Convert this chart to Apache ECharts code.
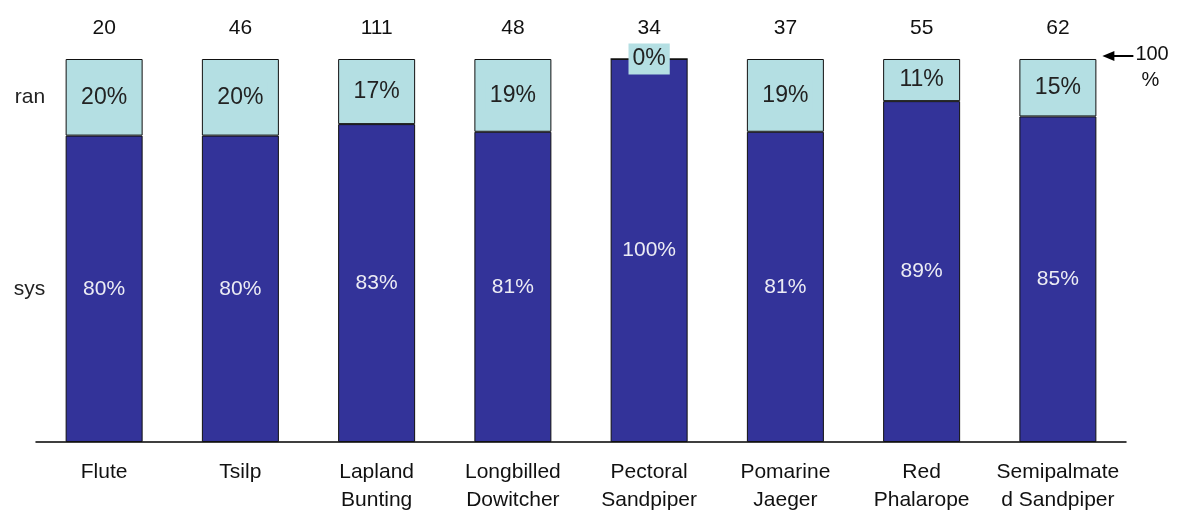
<!DOCTYPE html>
<html>
<head>
<meta charset="utf-8">
<script src="https://cdn.jsdelivr.net/npm/echarts@6/dist/echarts.min.js"></script>
<style>
  html, body { margin: 0; padding: 0; background: #fff; }
  #chart { width: 1177px; height: 511px; }
</style>
</head>
<body>
<div id="chart"></div>
<script>
// Species / call types and their sample sizes
const categories = ['Flute', 'Tsilp', 'Lapland\nBunting', 'Longbilled\nDowitcher',
  'Pectoral\nSandpiper', 'Pomarine\nJaeger', 'Red\nPhalarope', 'Semipalmate\nd Sandpiper'];
const counts = [20, 46, 111, 48, 34, 37, 55, 62];
// Percentage of systematic vs. random
const sysPct = [80, 80, 83, 81, 100, 81, 89, 85];
const ranPct = [20, 20, 17, 19, 0, 19, 11, 15];

const FONT = 'Liberation Sans, Arial, sans-serif';
const DARK = '#333399';
const LIGHT = '#b4dfe3';

const chart = echarts.init(document.getElementById('chart'));

chart.setOption({
  animation: false,
  grid: { left: 36, right: 51, top: 59, bottom: 69, containLabel: false, outerBoundsMode: 'none' },
  xAxis: [
    {
      type: 'category',
      data: categories,
      axisLine: { lineStyle: { color: '#000', width: 1.5 } },
      axisTick: { show: false },
      axisLabel: { color: '#111', fontFamily: FONT, fontSize: 21, lineHeight: 28, margin: 16, interval: 0 }
    },
    {
      type: 'category',
      position: 'top',
      data: counts.map(String),
      axisLine: { show: false },
      axisTick: { show: false },
      axisLabel: { color: '#111', fontFamily: FONT, fontSize: 21, margin: 20, interval: 0 }
    }
  ],
  yAxis: { type: 'value', min: 0, max: 100, show: false },
  series: [
    {
      name: 'sys',
      type: 'bar',
      stack: 'pct',
      barWidth: 77,
      data: sysPct,
      itemStyle: { color: DARK, borderColor: '#111', borderWidth: 1 },
      label: {
        show: true, position: 'inside', formatter: '{c}%',
        color: '#ececf4', fontFamily: FONT, fontSize: 21
      },
      markPoint: {
        symbol: 'circle', symbolSize: 0,
        data: [{ coord: [0, sysPct[0] / 2], value: 'sys' }],
        label: { formatter: 'sys', position: 'inside', align: 'right', offset: [-59, 0],
          color: '#222', fontFamily: FONT, fontSize: 21 }
      }
    },
    {
      name: 'ran',
      type: 'bar',
      stack: 'pct',
      barWidth: 77,
      data: ranPct,
      itemStyle: { color: LIGHT, borderColor: '#111', borderWidth: 1 },
      label: {
        show: true, position: 'inside', formatter: '{c}%',
        color: '#222', fontFamily: FONT, fontSize: 23,
        backgroundColor: LIGHT, padding: [1, 4, 7, 4]
      },
      markPoint: {
        symbol: 'circle', symbolSize: 0,
        data: [{ coord: [0, sysPct[0] + ranPct[0] / 2], value: 'ran' }],
        label: { formatter: 'ran', position: 'inside', align: 'right', offset: [-59, 0],
          color: '#222', fontFamily: FONT, fontSize: 21 }
      }
    }
  ]
});

// "100 %" pointer next to the last bar
const last = categories.length - 1;
const topPt = chart.convertToPixel({ xAxisIndex: 0, yAxisIndex: 0 }, [last, 100]);
const tipX = topPt[0] + 77 / 2 + 6;
const ay = topPt[1] - 3;
chart.setOption({
  graphic: [
    { type: 'line', shape: { x1: tipX + 8, y1: ay, x2: tipX + 31, y2: ay }, style: { stroke: '#000', lineWidth: 2 } },
    { type: 'polygon', shape: { points: [[tipX, ay], [tipX + 12, ay - 5], [tipX + 12, ay + 5]] }, style: { fill: '#000' } },
    { type: 'text', x: tipX + 33, y: ay - 2, style: { text: '100', font: '20px ' + FONT, fill: '#111', textVerticalAlign: 'middle' } },
    { type: 'text', x: tipX + 39, y: ay + 24, style: { text: '%', font: '20px ' + FONT, fill: '#111', textVerticalAlign: 'middle' } }
  ]
});
</script>
</body>
</html>
